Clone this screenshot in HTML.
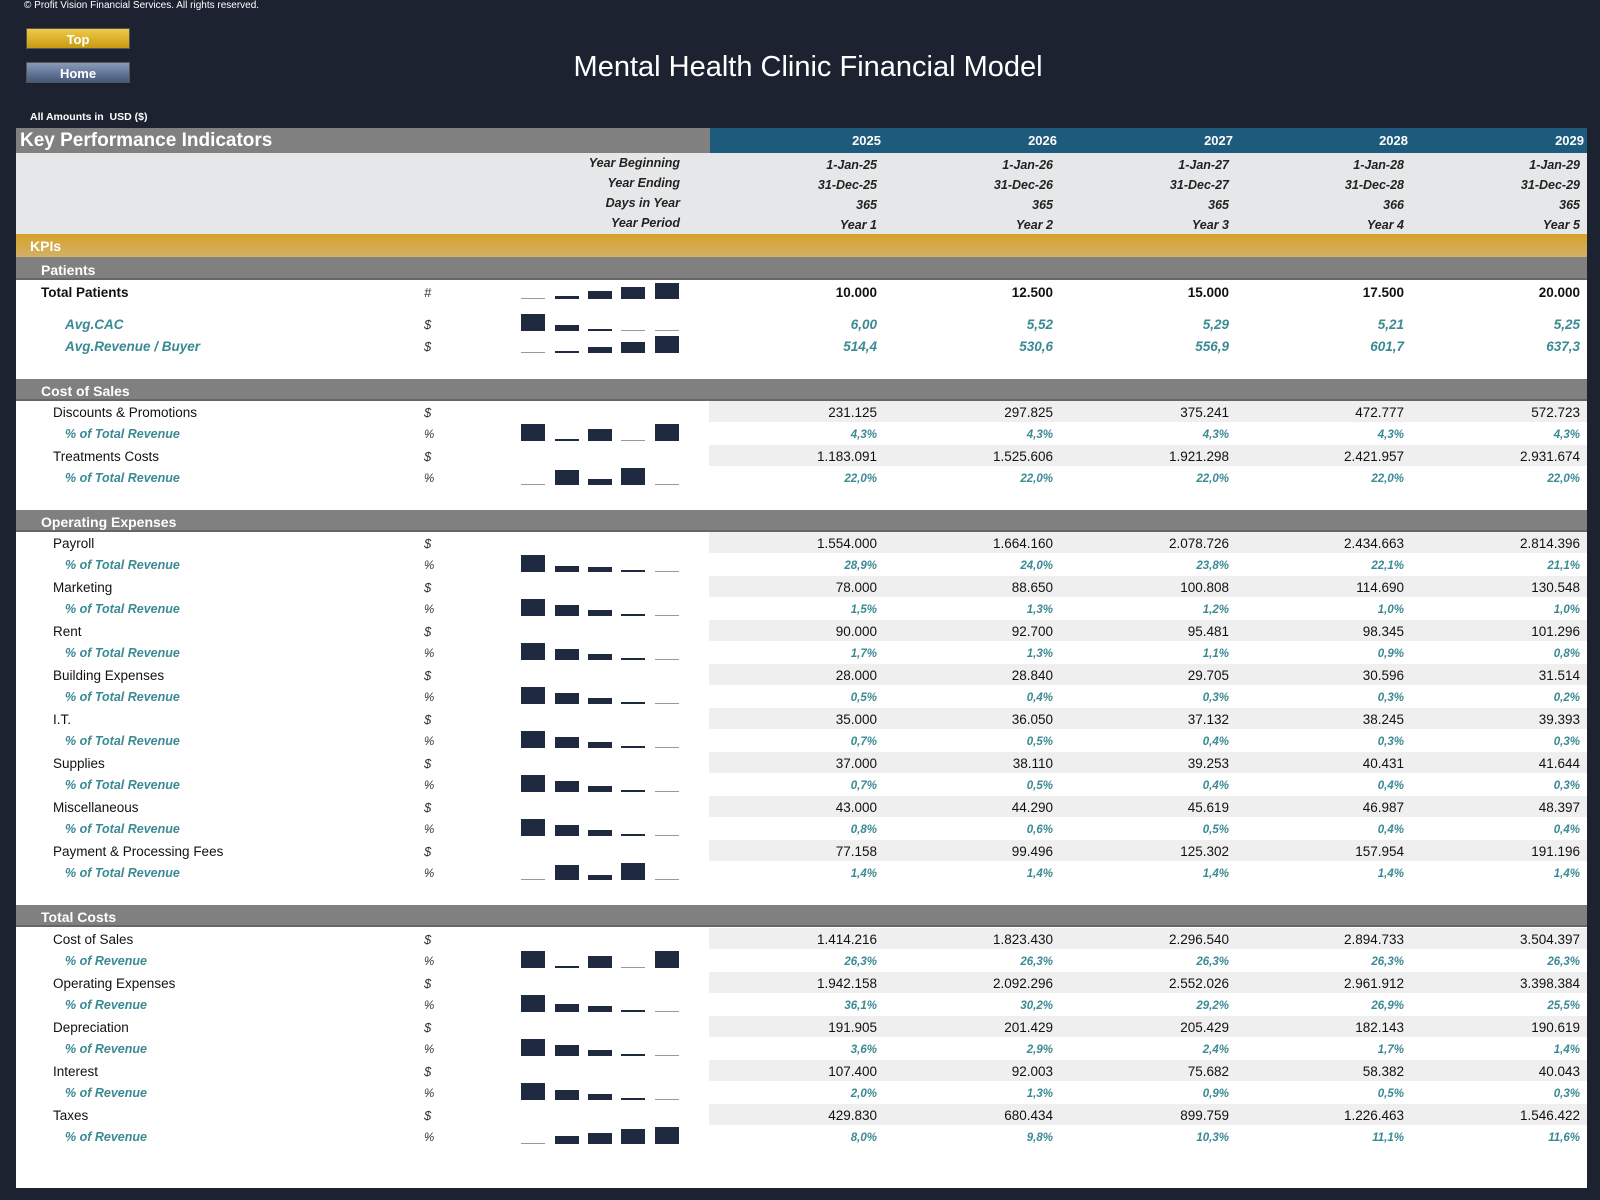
<!DOCTYPE html>
<html><head><meta charset="utf-8"><style>
*{margin:0;padding:0;box-sizing:border-box}
body{width:1600px;height:1200px;background:#1c2230;position:relative;overflow:hidden;font-family:"Liberation Sans",sans-serif}
.a{position:absolute;white-space:nowrap}
.btn{position:absolute;left:26px;width:104px;height:21px;color:#fff;font-weight:bold;font-size:13px;text-align:center;line-height:21px;border:1px solid #555}
.v{position:absolute;font-size:13.5px;color:#111;text-align:right;width:160px}
.p{color:#3a8a94;font-style:italic;font-weight:bold;font-size:11.5px}
.bar{position:absolute;background:#1f2a40;width:24px}
.ln{position:absolute;background:#999;width:24px;height:1px}
</style></head><body>
<div class="a" style="left:24px;top:0;color:#fff;font-size:10px">© Profit Vision Financial Services. All rights reserved.</div>
<div class="btn" style="top:28px;background:linear-gradient(#f0c94a,#c99a10)">Top</div>
<div class="btn" style="top:62px;background:linear-gradient(#8a9bb8,#44577a)">Home</div>
<div class="a" style="left:0;width:1600px;text-align:center;top:51px;color:#fff;font-size:29px">&nbsp;&nbsp;Mental Health Clinic Financial Model</div>
<div class="a" style="left:30px;top:111px;color:#fff;font-size:10.5px;font-weight:bold">All Amounts in&nbsp; USD ($)</div>
<div class="a" style="left:16px;top:128px;width:694px;height:25px;background:#808080"></div>
<div class="a" style="left:710px;top:128px;width:877px;height:25px;background:#1e5a7c"></div>
<div class="a" style="left:20px;top:130px;color:#fff;font-size:19px;font-weight:bold">Key Performance Indicators</div>
<div class="a" style="left:16px;top:153px;width:1571px;height:81px;background:#e6e7e8"></div>
<div class="a" style="left:16px;top:234px;width:1571px;height:23px;background:linear-gradient(#d7a22a,#d2b066)"></div>
<div class="a" style="left:30px;top:238px;color:#fff;font-size:14px;font-weight:bold">KPIs</div>
<div class="a" style="left:16px;top:257px;width:1571px;height:22px;background:#808080"></div>
<div class="a" style="left:16px;top:279px;width:1571px;height:909px;background:#fff"></div>
<div id="c"></div>
<script>
var c=document.getElementById('c'),h='';
var R=[877,1053,1229,1404,1580];
function t(x,y,s,st){h+='<div class="a" style="left:'+x+'px;top:'+(y-7)+'px;'+(st||'')+'">'+s+'</div>';}
function vals(y,arr,cls,st){var off=(cls=='p')?-5:-7;arr.forEach(function(s,i){h+='<div class="v '+(cls||'')+'" style="left:'+(R[i]-160)+'px;top:'+(y+off)+'px;'+(st||'')+'">'+s+'</div>';});}
var yrs=['2025','2026','2027','2028','2029'];
yrs.forEach(function(s,i){h+='<div class="v" style="left:'+(R[i]+4-160)+'px;top:133px;color:#fff;font-weight:bold;font-size:13px">'+s+'</div>';});
var hd=[['Year Beginning',164,['1-Jan-25','1-Jan-26','1-Jan-27','1-Jan-28','1-Jan-29']],['Year Ending',184,['31-Dec-25','31-Dec-26','31-Dec-27','31-Dec-28','31-Dec-29']],['Days in Year',204,['365','365','365','366','365']],['Year Period',224,['Year 1','Year 2','Year 3','Year 4','Year 5']]];
hd.forEach(function(r){h+='<div class="v" style="left:520px;top:'+(r[1]-8)+'px;font-style:italic;font-weight:bold;font-size:12.5px;color:#222">'+r[0]+'</div>';vals(r[1]+1,r[2],'','font-style:italic;font-weight:bold;font-size:12.5px;color:#222');});
function band(y,s){h+='<div class="a" style="left:16px;top:'+(y-11)+'px;width:1571px;height:22px;background:#808080;border-bottom:2px solid #666"></div>';t(41,y,s,'color:#fff;font-weight:bold;font-size:14px');}
function spark(y,hs){var xs=[521,555,588,621,655];hs.forEach(function(v,i){if(v==0)h+='<div class="ln" style="left:'+xs[i]+'px;top:'+(y+6)+'px"></div>';else h+='<div class="bar" style="left:'+xs[i]+'px;top:'+(y+7-v)+'px;height:'+v+'px"></div>';});}
function item(y,s,u,v,gray,bold){if(gray)h+='<div class="a" style="left:709px;top:'+(y-11)+'px;width:878px;height:21px;background:#efefef"></div>';t(53,y,s,'font-size:13.5px;color:#111'+(bold?';font-weight:bold':''));t(424,y,u,'font-style:italic;font-size:13px;color:#333');vals(y,v);}
function pct(y,s,u,v,sp){t(65,y,s,'color:#3a8a94;font-style:italic;font-weight:bold;font-size:12.5px');h+='<div class="a" style="left:424px;top:'+(y-5)+'px;font-style:italic;font-size:11.5px;color:#333">'+u+'</div>';spark(y,sp);vals(y,v,'p');}
band(269,'Patients');
t(41,292,'Total Patients','font-weight:bold;font-size:13.5px;color:#111');t(424,292,'#','font-style:italic;font-size:13px;color:#333');spark(292,[0,3,8,12,16]);vals(292,['10.000','12.500','15.000','17.500','20.000'],'','font-weight:bold');
t(65,324,'Avg.CAC','color:#3a8a94;font-style:italic;font-weight:bold;font-size:13.5px');t(424,324,'$','font-style:italic;font-size:13px;color:#333');spark(324,[17,6,2,0,0]);vals(324,['6,00','5,52','5,29','5,21','5,25'],'','color:#3a8a94;font-style:italic;font-weight:bold');
t(65,346,'Avg.Revenue / Buyer','color:#3a8a94;font-style:italic;font-weight:bold;font-size:13.5px');t(424,346,'$','font-style:italic;font-size:13px;color:#333');spark(346,[0,2,6,11,17]);vals(346,['514,4','530,6','556,9','601,7','637,3'],'','color:#3a8a94;font-style:italic;font-weight:bold');
band(390,'Cost of Sales');
item(412,'Discounts &amp; Promotions','$',['231.125','297.825','375.241','472.777','572.723'],1);
pct(434,'% of Total Revenue','%',['4,3%','4,3%','4,3%','4,3%','4,3%'],[17,2,12,0,17]);
item(456,'Treatments Costs','$',['1.183.091','1.525.606','1.921.298','2.421.957','2.931.674'],1);
pct(478,'% of Total Revenue','%',['22,0%','22,0%','22,0%','22,0%','22,0%'],[0,15,6,17,0]);
band(521,'Operating Expenses');
var ox=[['Payroll',['1.554.000','1.664.160','2.078.726','2.434.663','2.814.396'],['28,9%','24,0%','23,8%','22,1%','21,1%'],[17,6,5,2,0]],
['Marketing',['78.000','88.650','100.808','114.690','130.548'],['1,5%','1,3%','1,2%','1,0%','1,0%'],[17,11,6,2,0]],
['Rent',['90.000','92.700','95.481','98.345','101.296'],['1,7%','1,3%','1,1%','0,9%','0,8%'],[17,11,6,2,0]],
['Building Expenses',['28.000','28.840','29.705','30.596','31.514'],['0,5%','0,4%','0,3%','0,3%','0,2%'],[17,11,6,2,0]],
['I.T.',['35.000','36.050','37.132','38.245','39.393'],['0,7%','0,5%','0,4%','0,3%','0,3%'],[17,11,6,2,0]],
['Supplies',['37.000','38.110','39.253','40.431','41.644'],['0,7%','0,5%','0,4%','0,4%','0,3%'],[17,11,6,2,0]],
['Miscellaneous',['43.000','44.290','45.619','46.987','48.397'],['0,8%','0,6%','0,5%','0,4%','0,4%'],[17,11,6,2,0]],
['Payment &amp; Processing Fees',['77.158','99.496','125.302','157.954','191.196'],['1,4%','1,4%','1,4%','1,4%','1,4%'],[0,15,5,17,0]]];
ox.forEach(function(r,i){var y=543+i*44;item(y,r[0],'$',r[1],1);pct(y+22,'% of Total Revenue','%',r[2],r[3]);});
band(916,'Total Costs');
var tc=[['Cost of Sales',['1.414.216','1.823.430','2.296.540','2.894.733','3.504.397'],['26,3%','26,3%','26,3%','26,3%','26,3%'],[17,2,12,0,17]],
['Operating Expenses',['1.942.158','2.092.296','2.552.026','2.961.912','3.398.384'],['36,1%','30,2%','29,2%','26,9%','25,5%'],[17,8,6,2,0]],
['Depreciation',['191.905','201.429','205.429','182.143','190.619'],['3,6%','2,9%','2,4%','1,7%','1,4%'],[17,11,6,2,0]],
['Interest',['107.400','92.003','75.682','58.382','40.043'],['2,0%','1,3%','0,9%','0,5%','0,3%'],[17,10,6,2,0]],
['Taxes',['429.830','680.434','899.759','1.226.463','1.546.422'],['8,0%','9,8%','10,3%','11,1%','11,6%'],[0,8,11,15,17]]];
tc.forEach(function(r,i){var y=939+i*44;item(y,r[0],'$',r[1],1);pct(y+22,'% of Revenue','%',r[2],r[3]);});
c.innerHTML=h;
</script>
</body></html>
